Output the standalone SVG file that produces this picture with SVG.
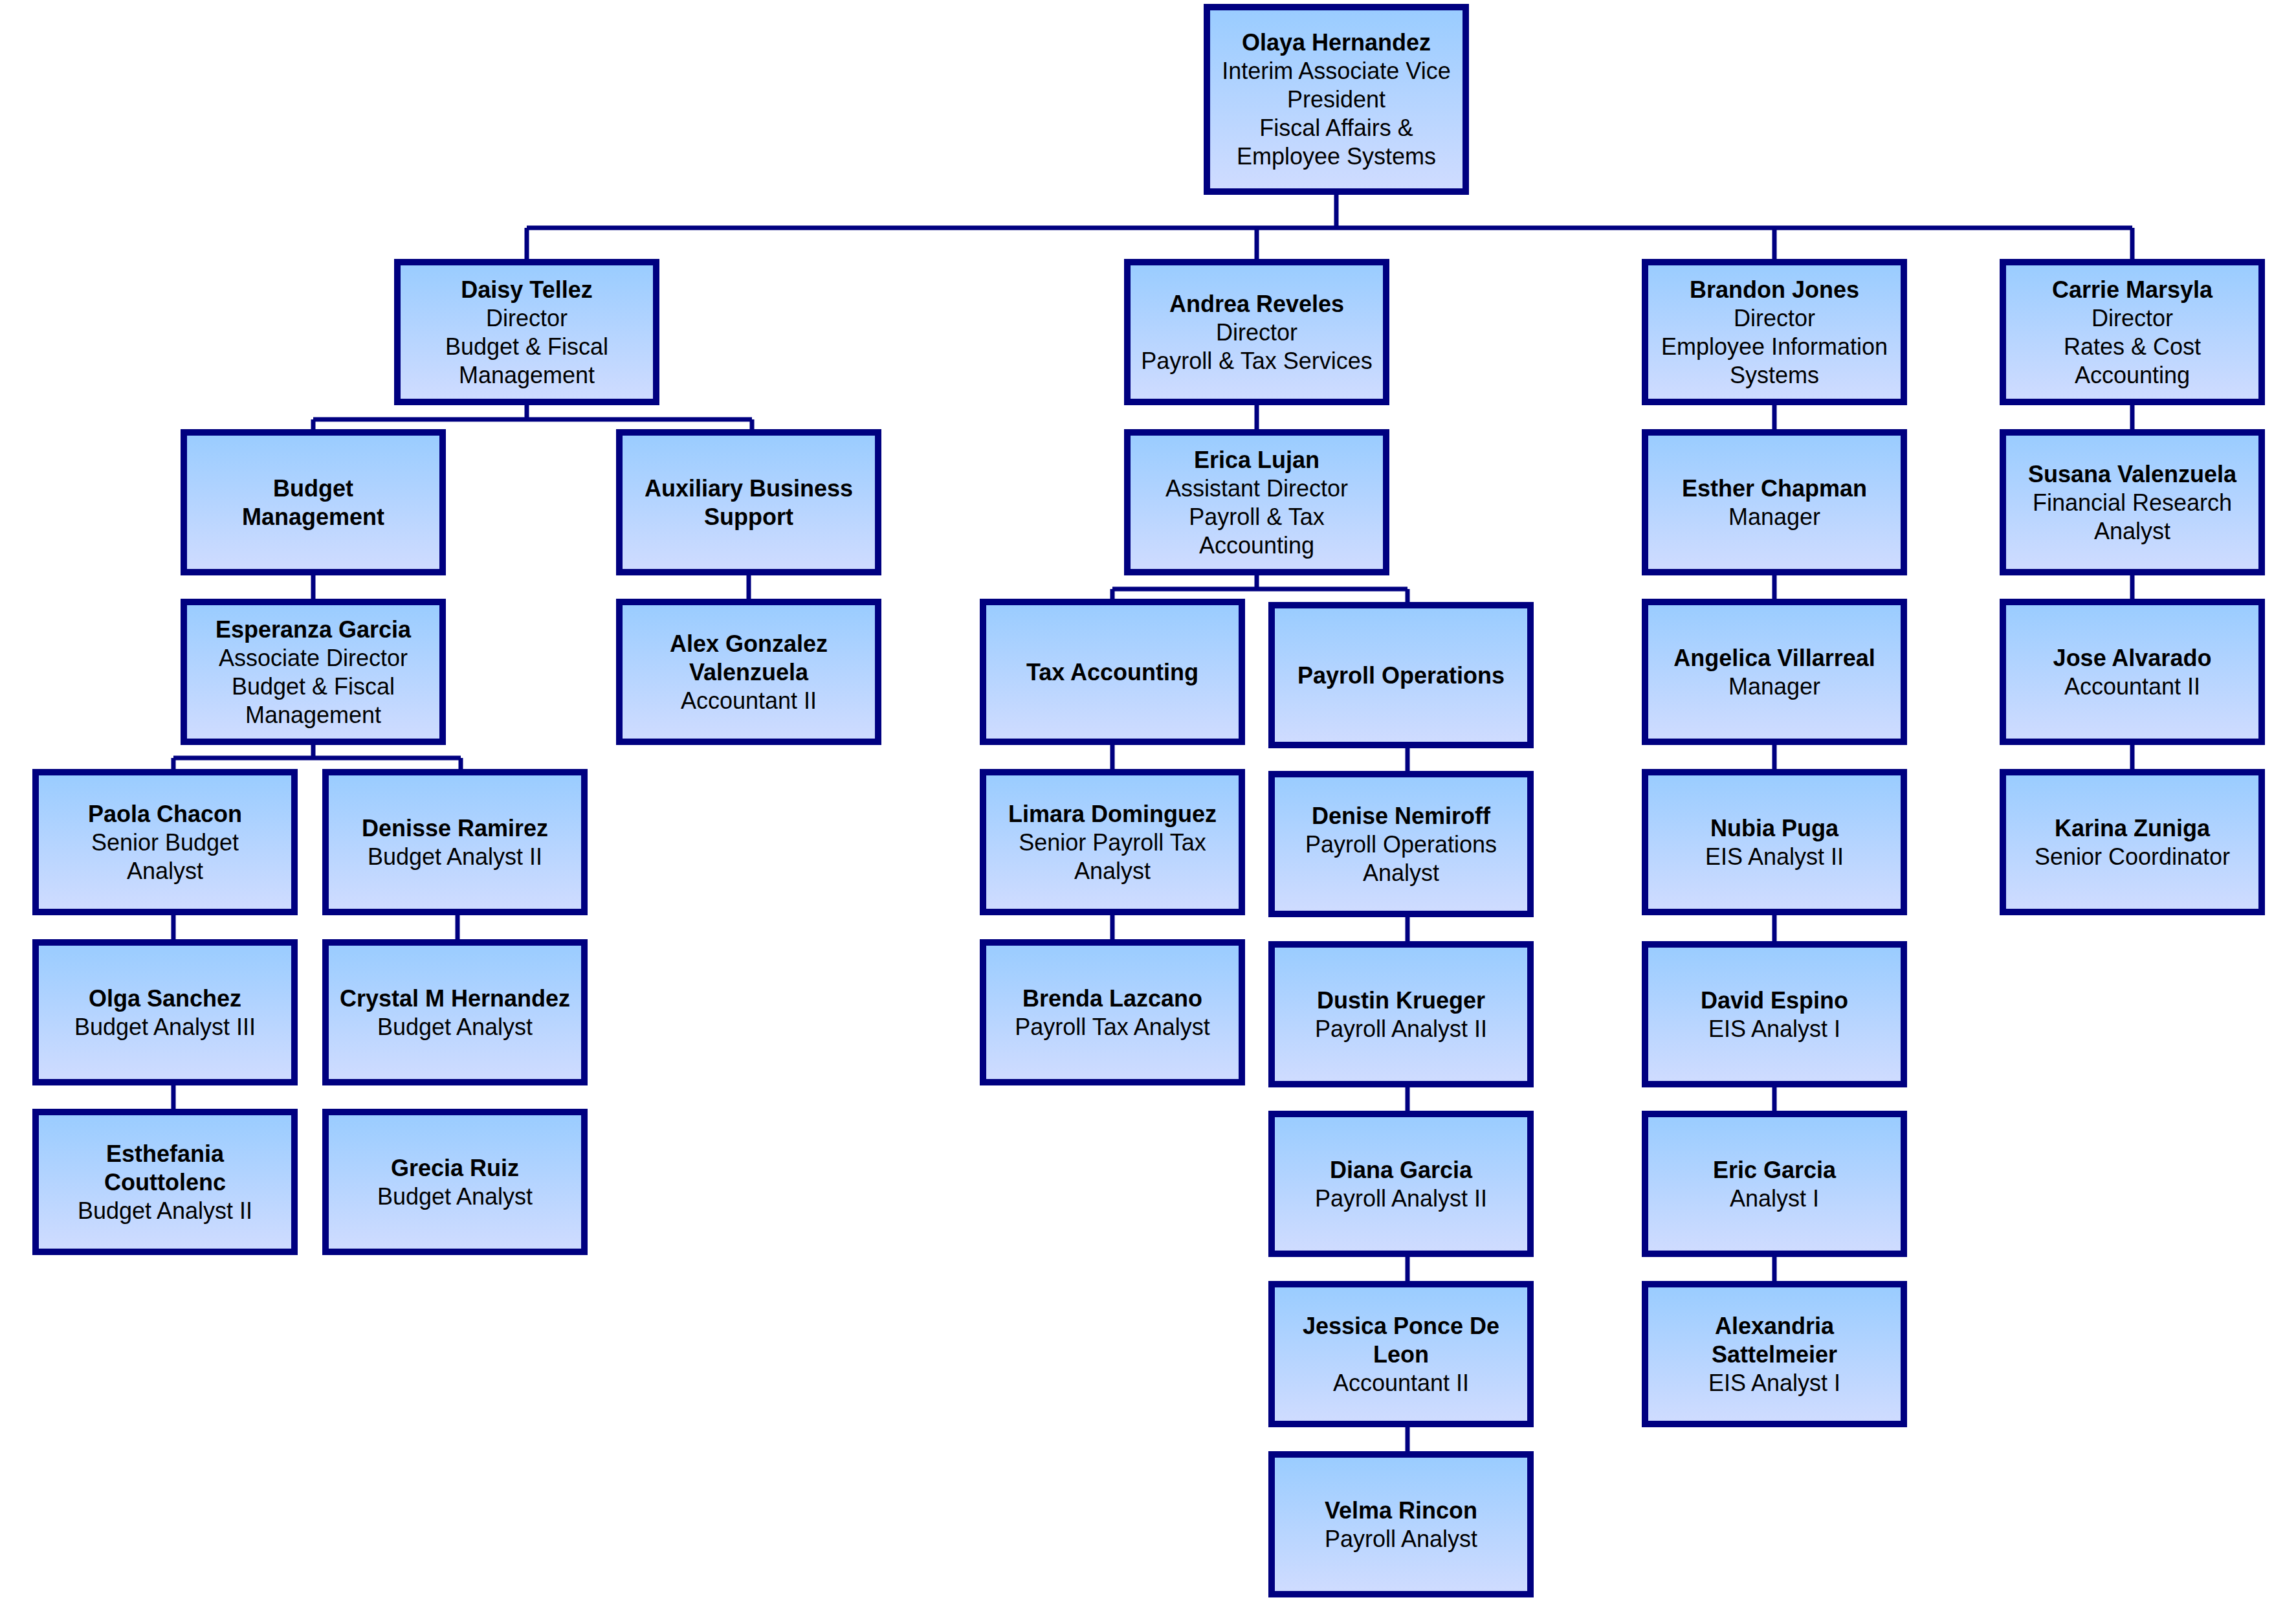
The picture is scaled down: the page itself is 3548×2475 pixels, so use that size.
<svg xmlns="http://www.w3.org/2000/svg" width="3548" height="2475" viewBox="0 0 3548 2475">
<defs>
<linearGradient id="g" x1="0" y1="0" x2="0" y2="1"><stop offset="0" stop-color="#99ccff"/><stop offset="1" stop-color="#d0dcff"/></linearGradient>
</defs>
<style>
.b{fill:url(#g);stroke:#000080;stroke-width:10}
text{font-family:"Liberation Sans",Arial,sans-serif;font-size:36px;text-anchor:middle;dominant-baseline:central;fill:#000}
.n{font-weight:bold}
#connectors path{fill:none;stroke:#000080;stroke-width:7}
</style>
<rect width="3548" height="2475" fill="#fff"/>
<g id="connectors">
<path d="M2065 296V352M814 352H3295M814 352V405M1942 352V405M2742 352V405M3295 352V405"/>
<path d="M814 621V648M484 648H1162M484 648V668M1162 648V668M484 884V930M1157 884V930"/>
<path d="M484 1146V1171M268 1171H712M268 1171V1193M712 1171V1193M268 1409V1718M707 1409V1456"/>
<path d="M1942 621V668M1942 884V910M1719 910H2175M1719 910V930M2175 910V935M1719 1146V1456M2175 1146V2244"/>
<path d="M2742 621V1981M3295 621V1193"/>
</g>
<g id="olaya"><rect class="b" x="1865" y="11" width="400" height="285"/><text x="2065"><tspan class="n" x="2065" y="65">Olaya Hernandez</tspan><tspan x="2065" y="109">Interim Associate Vice</tspan><tspan x="2065" y="153">President</tspan><tspan x="2065" y="197">Fiscal Affairs &amp;</tspan><tspan x="2065" y="241">Employee Systems</tspan></text></g>
<g id="daisy"><rect class="b" x="614" y="405" width="400" height="216"/><text><tspan class="n" x="814" y="447">Daisy Tellez</tspan><tspan x="814" y="491">Director</tspan><tspan x="814" y="535">Budget &amp; Fiscal</tspan><tspan x="814" y="579">Management</tspan></text></g>
<g id="andrea"><rect class="b" x="1742" y="405" width="400" height="216"/><text><tspan class="n" x="1942" y="469">Andrea Reveles</tspan><tspan x="1942" y="513">Director</tspan><tspan x="1942" y="557">Payroll &amp; Tax Services</tspan></text></g>
<g id="brandon"><rect class="b" x="2542" y="405" width="400" height="216"/><text><tspan class="n" x="2742" y="447">Brandon Jones</tspan><tspan x="2742" y="491">Director</tspan><tspan x="2742" y="535">Employee Information</tspan><tspan x="2742" y="579">Systems</tspan></text></g>
<g id="carrie"><rect class="b" x="3095" y="405" width="400" height="216"/><text><tspan class="n" x="3295" y="447">Carrie Marsyla</tspan><tspan x="3295" y="491">Director</tspan><tspan x="3295" y="535">Rates &amp; Cost</tspan><tspan x="3295" y="579">Accounting</tspan></text></g>
<g id="budgetmgmt"><rect class="b" x="284" y="668" width="400" height="216"/><text><tspan class="n" x="484" y="754">Budget</tspan><tspan class="n" x="484" y="798">Management</tspan></text></g>
<g id="aux"><rect class="b" x="957" y="668" width="400" height="216"/><text><tspan class="n" x="1157" y="754">Auxiliary Business</tspan><tspan class="n" x="1157" y="798">Support</tspan></text></g>
<g id="erica"><rect class="b" x="1742" y="668" width="400" height="216"/><text><tspan class="n" x="1942" y="710">Erica Lujan</tspan><tspan x="1942" y="754">Assistant Director</tspan><tspan x="1942" y="798">Payroll &amp; Tax</tspan><tspan x="1942" y="842">Accounting</tspan></text></g>
<g id="esther"><rect class="b" x="2542" y="668" width="400" height="216"/><text><tspan class="n" x="2742" y="754">Esther Chapman</tspan><tspan x="2742" y="798">Manager</tspan></text></g>
<g id="susana"><rect class="b" x="3095" y="668" width="400" height="216"/><text><tspan class="n" x="3295" y="732">Susana Valenzuela</tspan><tspan x="3295" y="776">Financial Research</tspan><tspan x="3295" y="820">Analyst</tspan></text></g>
<g id="esperanza"><rect class="b" x="284" y="930" width="400" height="216"/><text><tspan class="n" x="484" y="972">Esperanza Garcia</tspan><tspan x="484" y="1016">Associate Director</tspan><tspan x="484" y="1060">Budget &amp; Fiscal</tspan><tspan x="484" y="1104">Management</tspan></text></g>
<g id="alex"><rect class="b" x="957" y="930" width="400" height="216"/><text><tspan class="n" x="1157" y="994">Alex Gonzalez</tspan><tspan class="n" x="1157" y="1038">Valenzuela</tspan><tspan x="1157" y="1082">Accountant II</tspan></text></g>
<g id="tax"><rect class="b" x="1519" y="930" width="400" height="216"/><text><tspan class="n" x="1719" y="1038">Tax Accounting</tspan></text></g>
<g id="payops"><rect class="b" x="1965" y="935" width="400" height="216"/><text><tspan class="n" x="2165" y="1043">Payroll Operations</tspan></text></g>
<g id="angelica"><rect class="b" x="2542" y="930" width="400" height="216"/><text><tspan class="n" x="2742" y="1016">Angelica Villarreal</tspan><tspan x="2742" y="1060">Manager</tspan></text></g>
<g id="jose"><rect class="b" x="3095" y="930" width="400" height="216"/><text><tspan class="n" x="3295" y="1016">Jose Alvarado</tspan><tspan x="3295" y="1060">Accountant II</tspan></text></g>
<g id="paola"><rect class="b" x="55" y="1193" width="400" height="216"/><text><tspan class="n" x="255" y="1257">Paola Chacon</tspan><tspan x="255" y="1301">Senior Budget</tspan><tspan x="255" y="1345">Analyst</tspan></text></g>
<g id="denisse"><rect class="b" x="503" y="1193" width="400" height="216"/><text><tspan class="n" x="703" y="1279">Denisse Ramirez</tspan><tspan x="703" y="1323">Budget Analyst II</tspan></text></g>
<g id="limara"><rect class="b" x="1519" y="1193" width="400" height="216"/><text><tspan class="n" x="1719" y="1257">Limara Dominguez</tspan><tspan x="1719" y="1301">Senior Payroll Tax</tspan><tspan x="1719" y="1345">Analyst</tspan></text></g>
<g id="denise"><rect class="b" x="1965" y="1196" width="400" height="216"/><text><tspan class="n" x="2165" y="1260">Denise Nemiroff</tspan><tspan x="2165" y="1304">Payroll Operations</tspan><tspan x="2165" y="1348">Analyst</tspan></text></g>
<g id="nubia"><rect class="b" x="2542" y="1193" width="400" height="216"/><text><tspan class="n" x="2742" y="1279">Nubia Puga</tspan><tspan x="2742" y="1323">EIS Analyst II</tspan></text></g>
<g id="karina"><rect class="b" x="3095" y="1193" width="400" height="216"/><text><tspan class="n" x="3295" y="1279">Karina Zuniga</tspan><tspan x="3295" y="1323">Senior Coordinator</tspan></text></g>
<g id="olga"><rect class="b" x="55" y="1456" width="400" height="216"/><text><tspan class="n" x="255" y="1542">Olga Sanchez</tspan><tspan x="255" y="1586">Budget Analyst III</tspan></text></g>
<g id="crystal"><rect class="b" x="503" y="1456" width="400" height="216"/><text><tspan class="n" x="703" y="1542">Crystal M Hernandez</tspan><tspan x="703" y="1586">Budget Analyst</tspan></text></g>
<g id="brenda"><rect class="b" x="1519" y="1456" width="400" height="216"/><text><tspan class="n" x="1719" y="1542">Brenda Lazcano</tspan><tspan x="1719" y="1586">Payroll Tax Analyst</tspan></text></g>
<g id="dustin"><rect class="b" x="1965" y="1459" width="400" height="216"/><text><tspan class="n" x="2165" y="1545">Dustin Krueger</tspan><tspan x="2165" y="1589">Payroll Analyst II</tspan></text></g>
<g id="david"><rect class="b" x="2542" y="1459" width="400" height="216"/><text><tspan class="n" x="2742" y="1545">David Espino</tspan><tspan x="2742" y="1589">EIS Analyst I</tspan></text></g>
<g id="esthefania"><rect class="b" x="55" y="1718" width="400" height="216"/><text><tspan class="n" x="255" y="1782">Esthefania</tspan><tspan class="n" x="255" y="1826">Couttolenc</tspan><tspan x="255" y="1870">Budget Analyst II</tspan></text></g>
<g id="grecia"><rect class="b" x="503" y="1718" width="400" height="216"/><text><tspan class="n" x="703" y="1804">Grecia Ruiz</tspan><tspan x="703" y="1848">Budget Analyst</tspan></text></g>
<g id="diana"><rect class="b" x="1965" y="1721" width="400" height="216"/><text><tspan class="n" x="2165" y="1807">Diana Garcia</tspan><tspan x="2165" y="1851">Payroll Analyst II</tspan></text></g>
<g id="eric"><rect class="b" x="2542" y="1721" width="400" height="216"/><text><tspan class="n" x="2742" y="1807">Eric Garcia</tspan><tspan x="2742" y="1851">Analyst I</tspan></text></g>
<g id="jessica"><rect class="b" x="1965" y="1984" width="400" height="216"/><text><tspan class="n" x="2165" y="2048">Jessica Ponce De</tspan><tspan class="n" x="2165" y="2092">Leon</tspan><tspan x="2165" y="2136">Accountant II</tspan></text></g>
<g id="alexandria"><rect class="b" x="2542" y="1984" width="400" height="216"/><text><tspan class="n" x="2742" y="2048">Alexandria</tspan><tspan class="n" x="2742" y="2092">Sattelmeier</tspan><tspan x="2742" y="2136">EIS Analyst I</tspan></text></g>
<g id="velma"><rect class="b" x="1965" y="2247" width="400" height="216"/><text><tspan class="n" x="2165" y="2333">Velma Rincon</tspan><tspan x="2165" y="2377">Payroll Analyst</tspan></text></g>
</svg>
